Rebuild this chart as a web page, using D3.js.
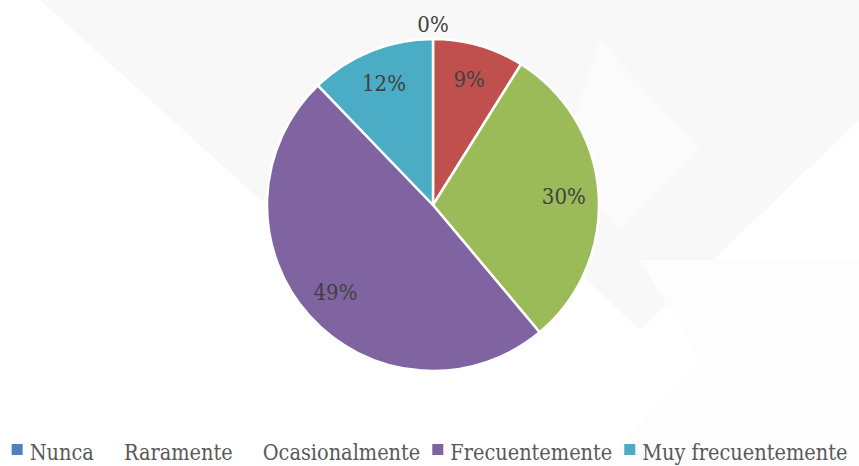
<!DOCTYPE html>
<html>
<head>
<meta charset="utf-8">
<script src="https://cdn.jsdelivr.net/npm/d3@7"></script>
<style>
  html, body { margin: 0; padding: 0; background: #fff; }
  svg { display: block; }
</style>
</head>
<body>
<div id="chart-container"></div>
<script>
// Pie chart - frecuencia

const categories = ['Nunca', 'Raramente', 'Ocasionalmente', 'Frecuentemente', 'Muy frecuentemente']
const values = [0, 8.9, 30.0, 48.9, 12.2]
const labels = ['0%', '9%', '30%', '49%', '12%']
const colors = ['#4f81bd', '#c0504d', '#9bbb59', '#8064a2', '#4bacc6']
// legend swatches for Raramente / Ocasionalmente are not visible in the original
const legendSwatch = [true, false, false, true, true]

const width = 859, height = 466
const cx = 433, cy = 205, radius = 166
const font = '"DejaVu Serif Condensed", "DejaVu Serif", serif'

const svg = d3.select('#chart-container')
    .append('svg')
    .attr('width', width)
    .attr('height', height)

// faint background shapes
const bg = svg.append('g')
bg.append('path')
    .attr('d', 'M40,0 L859,0 L859,120 L640,330 L470,170 L260,200 Z')
    .attr('fill', '#f9f8f9')
bg.append('path')
    .attr('d', 'M600,40 L700,150 L620,230 L560,160 Z')
    .attr('fill', '#fcfbfb')
bg.append('path')
    .attr('d', 'M640,260 L859,260 L859,466 L600,466 L700,360 Z')
    .attr('fill', '#fdfdfd')

const data = categories.map((c, i) => ({name: c, value: values[i], label: labels[i], color: colors[i]}))

const pie = d3.pie()
    .value(d => d.value)
    .sort(null)

const arc = d3.arc()
    .innerRadius(0)
    .outerRadius(radius)

const labelArc = d3.arc()
    .innerRadius(radius * 0.79)
    .outerRadius(radius * 0.79)

const outerArc = d3.arc()
    .innerRadius(radius + 15)
    .outerRadius(radius + 15)

const arcs = pie(data)

const g = svg.append('g')
    .attr('transform', `translate(${cx},${cy})`)

g.selectAll('path')
    .data(arcs)
    .join('path')
    .attr('d', arc)
    .attr('fill', d => d.data.color)
    .attr('stroke', '#fff')
    .attr('stroke-width', 2.5)
    .attr('stroke-linejoin', 'round')

g.selectAll('text')
    .data(arcs)
    .join('text')
    .attr('transform', d => {
        let p = d.data.value === 0 ? outerArc.centroid(d) : labelArc.centroid(d)
        return `translate(${p[0]},${p[1]})`
    })
    .attr('text-anchor', 'middle')
    .attr('dy', '0.35em')
    .attr('font-family', font)
    .attr('font-stretch', 'condensed')
    .attr('font-size', 22)
    .attr('fill', '#404040')
    .text(d => d.data.label)

// legend
const legend = svg.append('g')

let x = 0
categories.forEach((c, i) => {
    const item = legend.append('g').attr('transform', `translate(${x},0)`)
    if (legendSwatch[i]) {
        item.append('rect')
            .attr('x', 0)
            .attr('y', -8)
            .attr('width', 11)
            .attr('height', 11)
            .attr('fill', colors[i])
    }
    const t = item.append('text')
        .attr('x', 18)
        .attr('y', 0)
        .attr('dy', '0.35em')
        .attr('font-family', font)
        .attr('font-stretch', 'condensed')
        .attr('font-size', 21.5)
        .attr('fill', '#595959')
        .text(c)
    x += 18 + t.node().getComputedTextLength() + 12
})
const legendW = x - 12
legend.attr('transform', `translate(${Math.max(10, (width - legendW) / 2)},452)`)
</script>
</body>
</html>
